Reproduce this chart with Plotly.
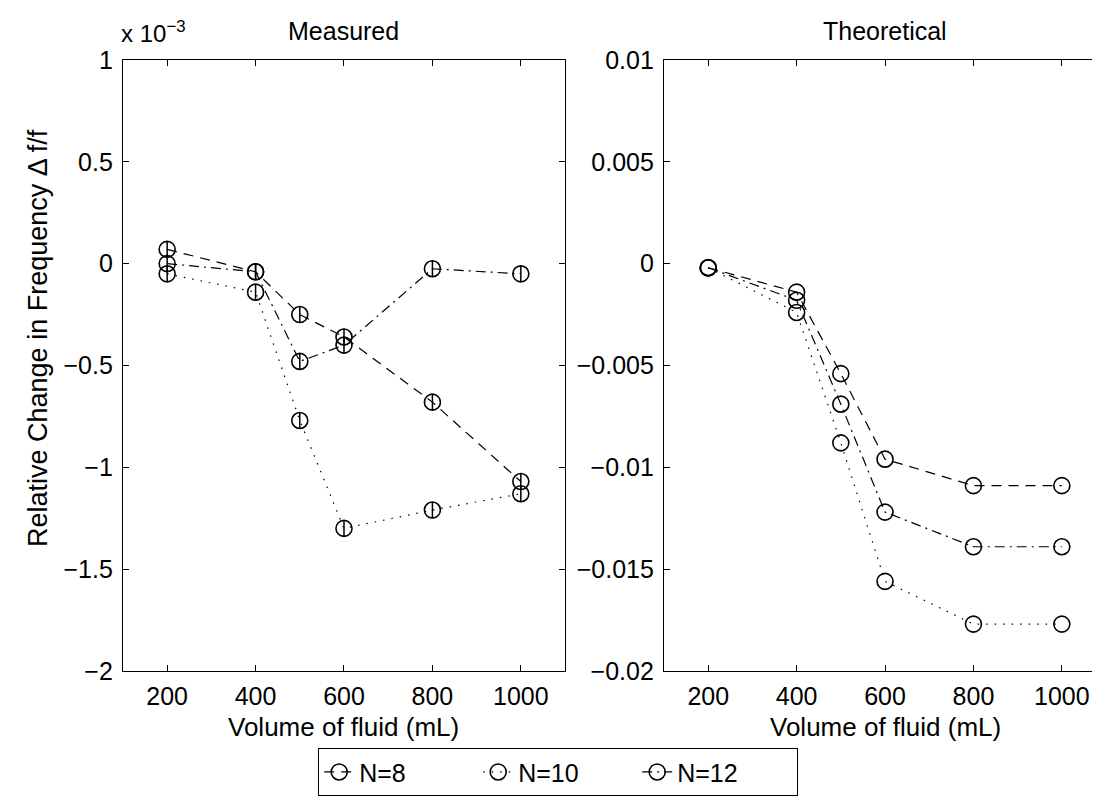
import plotly.graph_objects as go

# ---- data ----
volume = [200, 400, 500, 600, 800, 1000]

# Measured relative change (units of 1e-3)
meas_n8 = [0.07, -0.04, -0.25, -0.36, -0.68, -1.07]
meas_n10 = [-0.05, -0.14, -0.77, -1.30, -1.21, -1.13]
meas_n12 = [0.0, -0.04, -0.48, -0.40, -0.025, -0.05]
meas_err = [0.04, 0.04, 0.04, 0.04, 0.04, 0.04]

# Theoretical relative change
theo_n8 = [-0.0002, -0.0014, -0.0054, -0.0096, -0.0109, -0.0109]
theo_n10 = [-0.0002, -0.0024, -0.0088, -0.0156, -0.0177, -0.0177]
theo_n12 = [-0.0002, -0.0018, -0.0069, -0.0122, -0.0139, -0.0139]

series_names = ["N=8", "N=10", "N=12"]

x_ticks = [200, 400, 600, 800, 1000]
left_yticks = [-2, -1.5, -1, -0.5, 0, 0.5, 1]
left_yticklabels = ["\u22122", "\u22121.5", "\u22121", "\u22120.5", "0", "0.5", "1"]
right_yticks = [-0.02, -0.015, -0.01, -0.005, 0, 0.005, 0.01]
right_yticklabels = ["\u22120.02", "\u22120.015", "\u22120.01", "\u22120.005", "0", "0.005", "0.01"]

FONT = "Liberation Sans, Arial, Helvetica, sans-serif"
FS_TICK = 25
FS_TITLE = 25
FS_XLAB = 26
dashes = ["10px,7px", "1.5px,7px", "10px,5px,2px,5px"]

fig = go.Figure()

for name, ys, dsh in zip(series_names, [meas_n8, meas_n10, meas_n12], dashes):
    fig.add_trace(go.Scatter(
        x=volume, y=ys, name=name, mode="lines+markers",
        line=dict(color="black", width=1.2, dash=dsh),
        marker=dict(symbol="circle-open", size=16, color="black", line=dict(width=1.6, color="black")),
        error_y=dict(type="data", array=meas_err, color="black", thickness=1.5, width=0, visible=True),
        xaxis="x", yaxis="y", showlegend=True,
    ))

for name, ys, dsh in zip(series_names, [theo_n8, theo_n10, theo_n12], dashes):
    fig.add_trace(go.Scatter(
        x=volume, y=ys, name=name, mode="lines+markers",
        line=dict(color="black", width=1.2, dash=dsh),
        marker=dict(symbol="circle-open", size=16, color="black", line=dict(width=1.6, color="black")),
        xaxis="x2", yaxis="y2", showlegend=False,
    ))

ax_common = dict(
    showline=True, linecolor="black", linewidth=1.3, mirror="ticks",
    ticks="inside", ticklen=6, tickcolor="black", tickwidth=1.3,
    showgrid=False, zeroline=False,
    tickfont=dict(family=FONT, size=FS_TICK, color="black"),
)

LX = [0.1045, 0.5064]
RX = [0.5964, 0.9982]
yd = [0.1713, 0.935]
fig.update_layout(
    width=1100, height=800,
    paper_bgcolor="white", plot_bgcolor="white",
    margin=dict(l=0, r=0, t=0, b=0, autoexpand=False),
    font=dict(family=FONT, size=FS_TITLE, color="black"),
    xaxis=dict(domain=LX, range=[100, 1100], tickvals=x_ticks,
               anchor="y", ticklabelstandoff=3, **ax_common),
    yaxis=dict(domain=yd, range=[-2, 1], tickvals=left_yticks, ticktext=left_yticklabels,
               anchor="x", ticklabelstandoff=4, **ax_common),
    xaxis2=dict(domain=RX, range=[100, 1100], tickvals=x_ticks,
                anchor="y2", ticklabelstandoff=3, **ax_common),
    yaxis2=dict(domain=yd, range=[-0.02, 0.01], tickvals=right_yticks, ticktext=right_yticklabels,
                anchor="x2", ticklabelstandoff=4, **ax_common),
    legend=dict(orientation="h", x=0.5, xanchor="center", y=1 - 764 / 800, yanchor="middle",
                bordercolor="black", borderwidth=1.2, bgcolor="white",
                font=dict(family=FONT, size=FS_TICK, color="black"),
                entrywidth=114, entrywidthmode="pixels", tracegroupgap=0),
    showlegend=True,
)

ann = [
    dict(text="Measured", x=(LX[0] + LX[1]) / 2, y=1 - 23 / 800, size=FS_TITLE),
    dict(text="Theoretical", x=(RX[0] + RX[1]) / 2, y=1 - 23 / 800, size=FS_TITLE),
    dict(text="Volume of fluid (mL)", x=(LX[0] + LX[1]) / 2, y=1 - 719 / 800, size=FS_XLAB),
    dict(text="Volume of fluid (mL)", x=(RX[0] + RX[1]) / 2, y=1 - 719 / 800, size=FS_XLAB),
]
for a in ann:
    sz = a.pop("size")
    fig.add_annotation(xref="paper", yref="paper", showarrow=False,
                       xanchor="center", yanchor="middle",
                       font=dict(family=FONT, size=sz, color="black"), **a)

fig.add_annotation(xref="paper", yref="paper", showarrow=False,
                   x=111 / 1100, y=1 - 24 / 800, xanchor="left", yanchor="middle",
                   text="x 10<sup>\u22123</sup>", font=dict(family=FONT, size=24, color="black"))
fig.add_annotation(xref="paper", yref="paper", showarrow=False,
                   x=30 / 1100, y=1 - 330 / 800, xanchor="center", yanchor="middle",
                   textangle=-90, text="Relative Change in Frequency \u0394 f/f",
                   font=dict(family=FONT, size=27, color="black"))

fig.write_html("out.html")
